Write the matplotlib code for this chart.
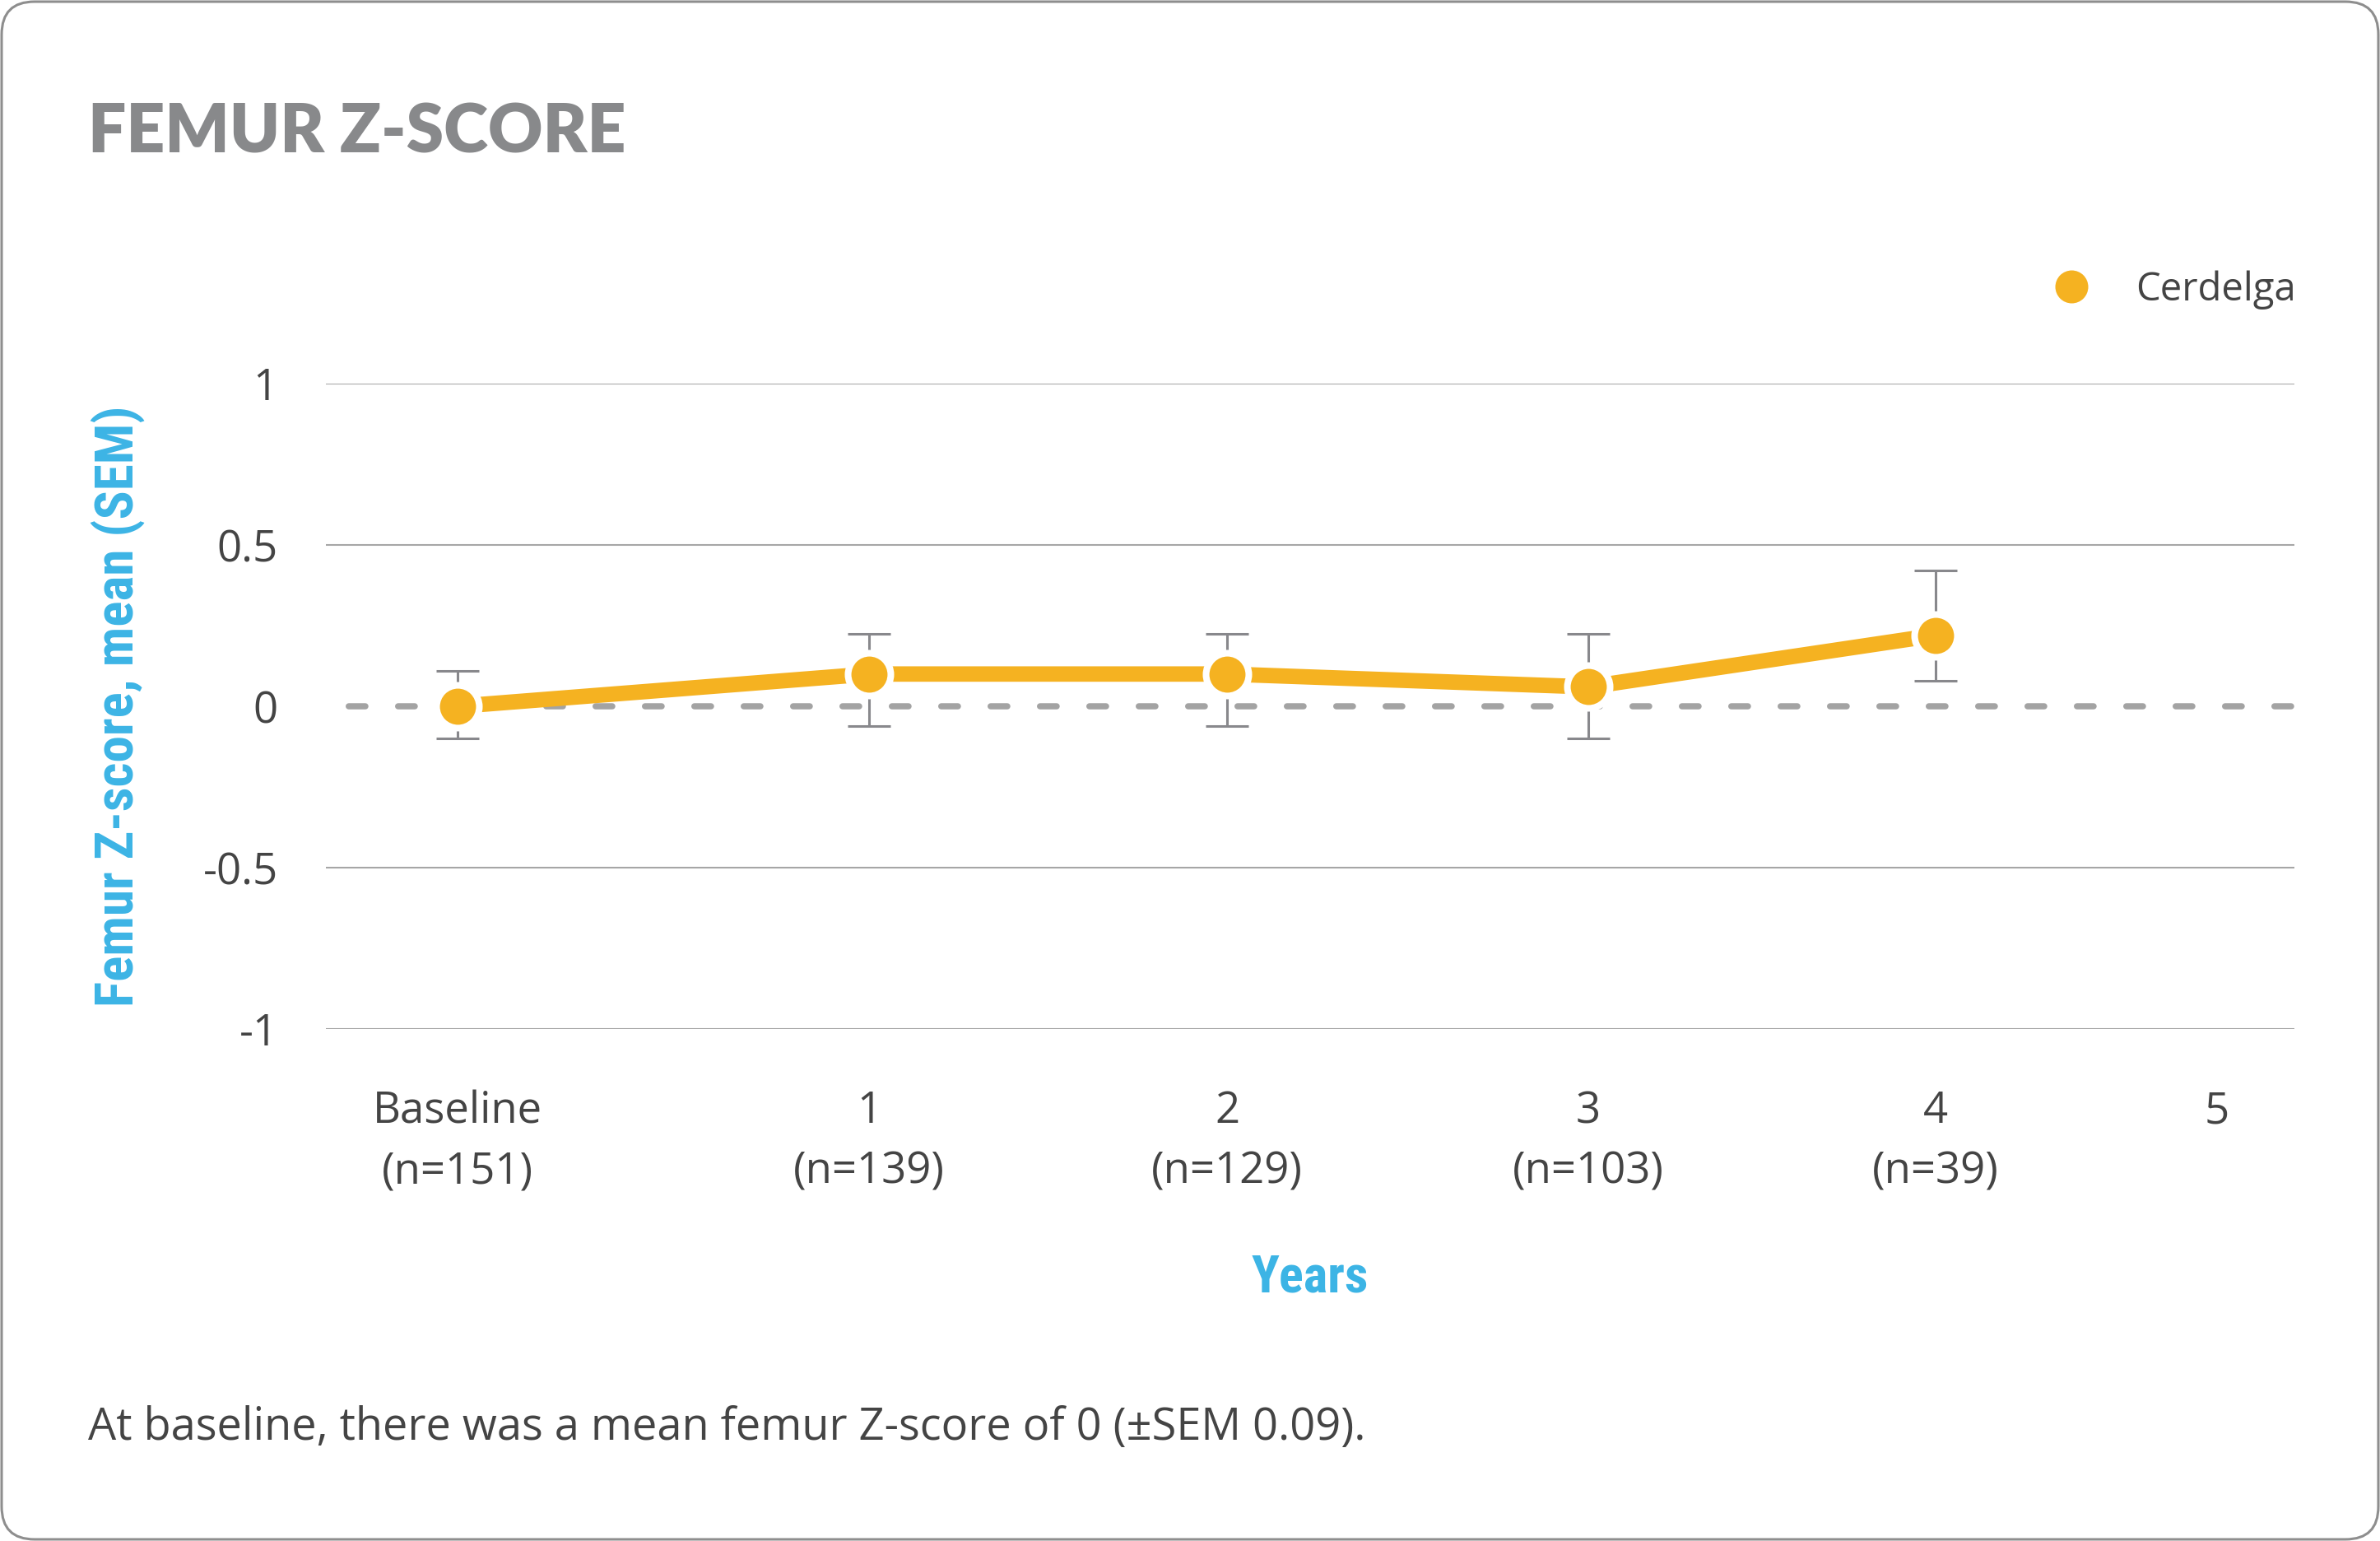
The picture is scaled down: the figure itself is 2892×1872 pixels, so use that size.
import matplotlib
matplotlib.use("Agg")
import matplotlib.pyplot as plt
from matplotlib import font_manager
from matplotlib.lines import Line2D
from matplotlib.patches import FancyBboxPatch

W, H, DPI = 2892, 1872, 100

# data
TICK_LABELS = ["Baseline\n(n=151)", "1\n(n=139)", "2\n(n=129)", "3\n(n=103)", "4\n(n=39)", "5"]
TICK_POS = [0.0, 1.14, 2.13, 3.13, 4.09, 4.87]
MEAN = [0.0, 0.10, 0.10, 0.06, 0.22]
SEM_LOW = [-0.10, -0.06, -0.06, -0.10, 0.08]
SEM_HIGH = [0.11, 0.225, 0.225, 0.225, 0.42]
Y_TICKS = [-1, -0.5, 0, 0.5, 1]
Y_TICK_LABELS = ["-1", "-0.5", "0", "0.5", "1"]

ORANGE = "#f5b221"
BLUE = "#3cb4e5"
TEXT = "#444444"
GRID = "#a6a6a6"
ERR = "#88888c"


def pick_font(names, default="DejaVu Sans"):
    for n in names:
        try:
            font_manager.findfont(n, fallback_to_default=False)
            return n
        except ValueError:
            pass
    return default


BODY = pick_font(["Open Sans", "Lato", "Noto Sans"])
HEAD = pick_font(["Lato", "Open Sans"])
NARROW = pick_font(["Liberation Sans Narrow", "DejaVu Sans Condensed", "Roboto Condensed"])

fig = plt.figure(figsize=(W / DPI, H / DPI), dpi=DPI, facecolor="white")

# rounded frame around the card
frame = FancyBboxPatch((2 / DPI, 2 / DPI), (W - 4) / DPI, (H - 4) / DPI,
                       boxstyle="round,pad=0,rounding_size=0.4",
                       transform=fig.dpi_scale_trans, fc="none", ec="#8e8e8e", lw=2.2)
fig.patches.append(frame)

ax = fig.add_axes([396 / W, 1 - 1250 / H, (2788 - 396) / W, (1250 - 466) / H])
ax.set_facecolor("none")
for s in ax.spines.values():
    s.set_visible(False)

ax.set_xlim(-0.364, 5.084)
ax.set_ylim(-1, 1)

for y in Y_TICKS:
    if y != 0:
        ax.axhline(y, color=GRID, lw=1.5, zorder=0)
ax.axhline(0, color="#a3a3a3", lw=5.4, ls=(4.3, (2.7, 5.3)), dash_capstyle="round", zorder=1)

x = TICK_POS[:len(MEAN)]
lo = [m - l for m, l in zip(MEAN, SEM_LOW)]
hi = [h - m for m, h in zip(MEAN, SEM_HIGH)]
ax.errorbar(x, MEAN, yerr=[lo, hi], fmt="none", ecolor=ERR, elinewidth=2.2,
            capsize=19, capthick=2.2, zorder=2)
ax.plot(x, MEAN, color=ORANGE, lw=13.5, solid_capstyle="round", zorder=3)
ax.plot(x, MEAN, "o", ms=37.4, mfc=ORANGE, mec="white", mew=5.8, zorder=4, clip_on=False)

ax.set_yticks(Y_TICKS)
ax.set_yticklabels(Y_TICK_LABELS)
ax.set_xticks(TICK_POS)
ax.set_xticklabels(TICK_LABELS, linespacing=1.48)
ax.tick_params(axis="both", length=0, colors=TEXT, labelsize=38)
ax.tick_params(axis="x", pad=53)
ax.tick_params(axis="y", pad=42)
for lab in ax.get_xticklabels() + ax.get_yticklabels():
    lab.set_fontfamily(BODY)

handle = Line2D([], [], ls="none", marker="o", ms=28.8, mfc=ORANGE, mec="none")
ax.legend([handle], ["Cerdelga"], loc="center right",
          bbox_to_anchor=(2790 / W, 1 - 352 / H), bbox_transform=fig.transFigure,
          frameon=False, handlelength=1.0, handletextpad=1.15, borderpad=0,
          borderaxespad=0, prop={"family": BODY, "size": 34}, labelcolor=TEXT)

fig.text(107 / W, 1 - 186 / H, "FEMUR Z-SCORE", fontsize=59, fontweight="heavy",
         family=HEAD, color="#88898b", ha="left", va="baseline")

fig.text(162 / W, 1 - 858 / H, "Femur Z-score, mean (SEM)", rotation=90,
         rotation_mode="anchor", ha="center", va="baseline",
         fontsize=47, fontweight="bold", family=NARROW, color=BLUE)
fig.text(1592 / W, 1 - 1569 / H, "Years", ha="center", va="baseline",
         fontsize=45, fontweight="bold", family=NARROW, color=BLUE)

fig.text(107 / W, 1 - 1749 / H, "At baseline, there was a mean femur Z-score of 0 (\u00b1SEM 0.09).",
         ha="left", va="baseline", fontsize=39, family=BODY, color=TEXT)

fig.savefig("out.png", dpi=DPI, facecolor="white")
